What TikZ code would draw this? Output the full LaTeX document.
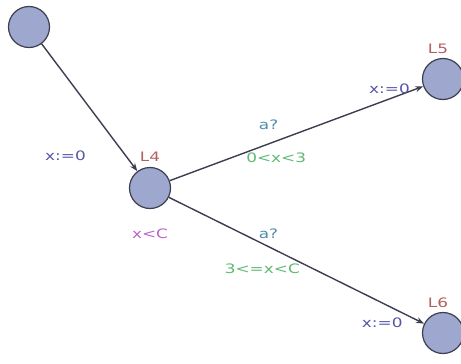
\documentclass[tikz,border=0pt]{standalone}
\usepackage{fontspec}
\newfontfamily\uppfont[FakeStretch=1.3]{DejaVu Sans}
\usepackage{tikz}
\usetikzlibrary{arrows.meta, positioning}

\definecolor{locfill}{RGB}{158,168,206}
\definecolor{locdraw}{RGB}{60,62,80}
\definecolor{namecol}{RGB}{178,96,96}
\definecolor{invcol}{RGB}{190,95,205}
\definecolor{synccol}{RGB}{80,140,170}
\definecolor{guardcol}{RGB}{95,185,115}
\definecolor{updcol}{RGB}{85,85,170}

\begin{document}
\begin{tikzpicture}[
    x=1pt, y=-1pt,
    every node/.style={font=\uppfont\fontsize{13}{15}\selectfont},
    loc/.style={draw=locdraw, circle, line width=1.2pt, fill=locfill, minimum size=41pt, inner sep=0pt},
    locname/.style={text=namecol, inner sep=1pt},
    inv/.style={text=invcol, inner sep=1pt},
    sync/.style={text=synccol, inner sep=1pt},
    guard/.style={text=guardcol, inner sep=1pt},
    upd/.style={text=updcol, inner sep=1pt},
    trans/.style={draw=locdraw, line width=1.4pt, -{Stealth[length=8pt, width=6pt]}}
]
\useasboundingbox (0,0) rectangle (461,364);

\node (init) [loc] at (29,27) {};
\node (l4) [loc, label={[locname, label distance=4pt]above:L4}, label={[inv, label distance=19pt]below:x<C}] at (150,188) {};
\node (l5) [loc, label={[locname, xshift=-5pt, label distance=3pt]above:L5}] at (443,79) {};
\node (l6) [loc, label={[locname, xshift=-5pt, label distance=3pt]above:L6}] at (443,333) {};

\draw [trans] (init) -- node[upd, pos=0.876, left=38pt] {x:=0} (l4);
\draw [trans] (l4) -- node[sync, pos=0.39, above=12pt] {a?}
                      node[guard, pos=0.42, below=10pt] {0<x<3}
                      node[upd, pos=0.867, above=4pt] {x:=0} (l5);
\draw [trans] (l4) -- node[sync, pos=0.39, above=6pt] {a?}
                      node[guard, pos=0.366, below=19pt] {3<=x<C}
                      node[upd, pos=0.836, below=13pt] {x:=0} (l6);

\end{tikzpicture}
\end{document}
